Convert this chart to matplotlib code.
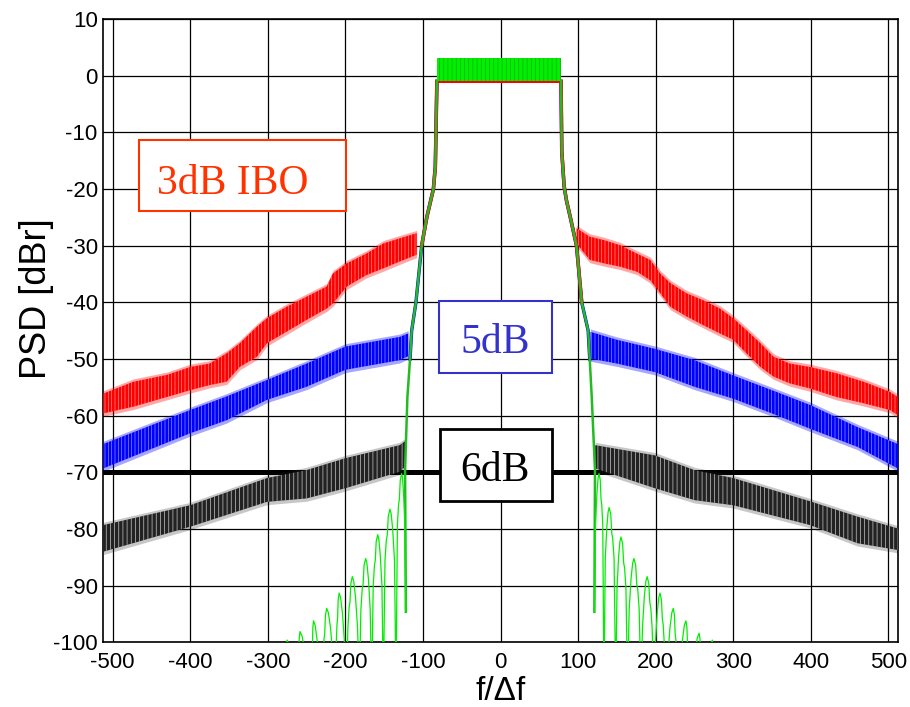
import matplotlib
matplotlib.use('Agg')
import matplotlib.pyplot as plt
from matplotlib.patches import Rectangle

plt.rcParams['hatch.linewidth'] = 0.5
plt.rcParams['axes.unicode_minus'] = False

# outer spectrum bands: x, lower and upper edge of the noisy trace (dBr)
red_left_x = [-512, -473, -430, -400, -375, -353, -336, -314, -301, -276, -250, -224, -216, -198, -173, -151, -130, -108]
red_left_lo = [-59.6, -58.4, -56.7, -55.5, -54.6, -54.0, -51.4, -49.6, -47.2, -45.2, -43.1, -41.1, -40.2, -37.2, -35.2, -34.0, -32.8, -31.6]
red_left_hi = [-56.1, -54.0, -52.8, -51.4, -50.8, -49.0, -47.2, -44.3, -42.8, -40.8, -39.0, -37.2, -34.9, -33.1, -31.4, -29.6, -28.7, -27.8]
red_right_x = [98, 115, 133, 154, 176, 193, 206, 219, 240, 261, 283, 300, 317, 335, 352, 373, 399, 433, 468, 502, 512]
red_right_lo = [-29.6, -32.5, -33.1, -33.7, -34.6, -36.1, -38.4, -40.8, -42.5, -44.0, -45.5, -46.6, -49.0, -51.4, -53.1, -54.3, -55.2, -56.7, -57.8, -59.0, -59.9]
red_right_hi = [-26.9, -28.4, -29.0, -29.9, -31.4, -32.5, -34.9, -36.6, -38.4, -39.6, -41.1, -42.8, -44.9, -47.2, -49.6, -50.8, -51.4, -52.5, -54.0, -55.8, -56.7]

blue_left_x = [-512, -400, -353, -301, -250, -200, -130, -119]
blue_left_lo = [-69.3, -63.1, -60.8, -57.2, -54.9, -51.9, -50.2, -49.5]
blue_left_hi = [-65.0, -59.0, -56.6, -53.7, -50.8, -47.8, -46.1, -45.5]
blue_right_x = [116, 150, 199, 250, 300, 350, 399, 460, 512]
blue_right_lo = [-49.9, -50.8, -52.3, -54.9, -57.0, -59.6, -62.3, -65.5, -69.3]
blue_right_hi = [-45.2, -46.6, -48.2, -50.2, -52.9, -55.5, -58.1, -62.0, -65.0]

black_left_x = [-512, -400, -301, -250, -200, -130, -123]
black_left_lo = [-84.0, -79.6, -75.2, -74.6, -72.8, -69.9, -69.0]
black_left_hi = [-79.3, -75.8, -71.0, -69.6, -67.5, -65.2, -64.5]
black_right_x = [122, 199, 250, 300, 399, 460, 512]
black_right_lo = [-69.3, -72.8, -74.9, -75.8, -79.3, -82.5, -83.7]
black_right_hi = [-65.2, -67.0, -69.6, -71.0, -75.1, -77.8, -79.9]

# main lobe
inband_x = [-82, 78]
green_inband = (-1.0, 3.1)
pa_inband = (-1.3, 2.5)
skirt_left_x = [-122, -123, -120, -116.6, -114.5, -109, -101.6, -95, -86.5, -84, -82]
skirt_left_y = [-94.6, -69.6, -56.7, -50, -45, -40, -30, -25, -20, -16, -1]
skirt_right_x = [78, 79, 82, 85, 90, 98, 104.7, 113, 115, 117.6, 121.8, 121]
skirt_right_y = [-1, -13.4, -19.5, -22, -25, -30, -40, -45, -50, -56.7, -69.6, -94.6]

# sidelobes of the ideal (linear) spectrum
sl_left_peak_x = [-127.4, -142.5, -158.3, -173.8, -191, -208, -224, -241, -258.5, -275]
sl_left_peak_y = [-70.2, -76.5, -81.0, -85.2, -88.4, -91.3, -94.0, -96.2, -98.1, -99.6]
sl_left_null_x = [-134.7, -151, -166, -182, -198.6, -213, -230.5, -244.6, -262, -282]
sl_right_peak_x = [127, 140, 155.3, 172, 189, 205.6, 222.7, 239, 256, 273]
sl_right_peak_y = [-70.2, -76.2, -81.4, -85.2, -88.4, -91.3, -94.0, -96.2, -98.4, -99.6]
sl_right_null_x = [133.4, 148.5, 163.8, 181, 197.6, 213, 228.8, 244.3, 261.4, 280]

limit_level = -70

RED = '#ff0000'
BLUE = '#0000ff'
GREEN = '#00ee00'


def sidelobes(x0, y0, peaks_x, peaks_y, nulls_x):
	# rounded lobe tops with a small shoulder on the outer flank
	xs, ys = [x0], [y0]
	start = x0
	for xp, yp, xn in zip(peaks_x, peaks_y, nulls_x):
		a, b = xp - start, xn - xp
		xs += [start + 0.25 * a, start + 0.55 * a, start + 0.8 * a, xp, xp + 0.25 * b, xp + 0.4 * b,
			xp + 0.55 * b, xp + 0.75 * b, xn]
		ys += [yp - 9, yp - 3.5, yp - 0.8, yp, yp - 1.2, yp - 4.5, yp - 5.5, yp - 9, -108]
		start = xn
	return xs, ys


def band(ax, x, lo, hi, color, z, streak=(1, 1, 1, 0.55), hatch='|||||', rim=0.35):
	# soft ragged rim + solid core with light vertical streaks
	ax.fill_between(x, [v - 0.5 for v in lo], [v + 0.5 for v in hi], color=color, alpha=rim, linewidth=0, zorder=z)
	ax.fill_between(x, lo, hi, facecolor=color, edgecolor=streak, hatch=hatch, linewidth=0, zorder=z)


fig = plt.figure(figsize=(9.1, 7.07), dpi=100)
ax = fig.add_axes([0.1135, 0.0914, 0.873, 0.8817])

ax.axhline(limit_level, color='k', linewidth=3.6, zorder=2)

band(ax, black_left_x, black_left_lo, black_left_hi, '#222222', 3, (1, 1, 1, 0.75), '||||', 0.25)
band(ax, black_right_x, black_right_lo, black_right_hi, '#222222', 3, (1, 1, 1, 0.75), '||||', 0.25)
band(ax, blue_left_x, blue_left_lo, blue_left_hi, BLUE, 4)
band(ax, blue_right_x, blue_right_lo, blue_right_hi, BLUE, 4)
band(ax, red_left_x, red_left_lo, red_left_hi, RED, 5)
band(ax, red_right_x, red_right_lo, red_right_hi, RED, 5)
ax.fill_between(inband_x, *pa_inband, color=RED, linewidth=0, zorder=5)

# skirts of the amplified spectra (mostly hidden under green)
ax.plot(skirt_left_x[3:], skirt_left_y[3:], color=BLUE, linewidth=2.4, zorder=5)
ax.plot(skirt_right_x[:9], skirt_right_y[:9], color=BLUE, linewidth=2.4, zorder=5)
ax.plot(skirt_left_x[6:], skirt_left_y[6:], color=RED, linewidth=2.6, zorder=5)
ax.plot(skirt_right_x[:7], skirt_right_y[:7], color=RED, linewidth=2.6, zorder=5)

# ideal spectrum
ax.fill_between(inband_x, *green_inband, facecolor='#00f000', edgecolor=(0.15, 0.5, 0.15, 0.6),
	hatch='||||', linewidth=0, zorder=6)
ax.plot(skirt_left_x, skirt_left_y, color='#22bb22', linewidth=1.8, zorder=6)
ax.plot(skirt_right_x, skirt_right_y, color='#22bb22', linewidth=1.8, zorder=6)
lx, ly = sidelobes(skirt_left_x[0], skirt_left_y[0], sl_left_peak_x, sl_left_peak_y, sl_left_null_x)
ax.plot(lx, ly, color=GREEN, linewidth=0.9, zorder=6)
rx, ry = sidelobes(skirt_right_x[-1], skirt_right_y[-1], sl_right_peak_x, sl_right_peak_y, sl_right_null_x)
ax.plot(rx, ry, color=GREEN, linewidth=0.9, zorder=6)

# labels
ax.add_patch(Rectangle((-466.2, -23.9), 267.6, 12.6, facecolor='white', edgecolor='#ff3300', linewidth=1.5, zorder=10))
ax.text(-344.8, -20.8, '3dB IBO', color='#ff3300', fontsize=30, family='Liberation Serif',
	ha='center', va='baseline', zorder=11)
ax.add_patch(Rectangle((-78.9, -52.5), 145.7, 12.8, facecolor='white', edgecolor='#3333cc', linewidth=1.5, zorder=10))
ax.text(-6.7, -49.0, '5dB', color='#3333cc', fontsize=30, family='Liberation Serif',
	ha='center', va='baseline', zorder=11)
ax.add_patch(Rectangle((-78, -75), 144.8, 12.7, facecolor='white', edgecolor='k', linewidth=2, zorder=10))
ax.text(-7, -71.6, '6dB', color='k', fontsize=30, family='Liberation Serif',
	ha='center', va='baseline', zorder=11)

ax.set_xlim(-512, 512)
ax.set_ylim(-100, 10)
ax.set_xticks(range(-500, 501, 100))
ax.set_yticks(range(-100, 11, 10))
ax.grid(color='k', linestyle='-', linewidth=0.9)
ax.set_axisbelow(True)
for s in ax.spines.values():
	s.set_linewidth(1.2)
ax.tick_params(length=0, labelsize=16, pad=4)
ax.tick_params(axis='x', pad=7)
for lab in ax.get_xticklabels() + ax.get_yticklabels():
	lab.set_family('Liberation Sans')

ax.set_xlabel('f/Δf', fontsize=24, family='Liberation Sans', labelpad=2)
ax.set_ylabel('PSD [dBr]', fontsize=26, family='Liberation Sans')
ax.yaxis.set_label_coords(-0.062, 0.552)

fig.savefig('out.png', dpi=100)
